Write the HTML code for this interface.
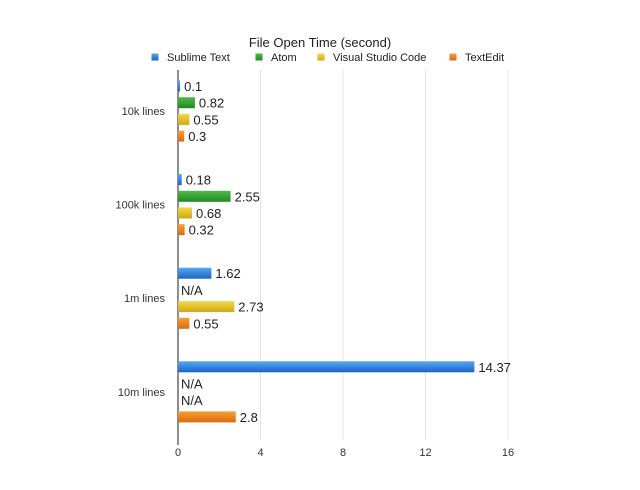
<!DOCTYPE html>
<html><head><meta charset="utf-8"><style>
body{margin:0;background:#fff;font-family:"Liberation Sans",sans-serif;}
svg text{font-family:"Liberation Sans",sans-serif;}
</style></head><body>
<svg id="c" width="640" height="485" xmlns="http://www.w3.org/2000/svg">
<defs>
<linearGradient id="g0" x1="0" y1="0" x2="0" y2="1"><stop offset="0" stop-color="#5aa6f0"/><stop offset="1" stop-color="#1666c8"/></linearGradient>
<linearGradient id="g1" x1="0" y1="0" x2="0" y2="1"><stop offset="0" stop-color="#52b84c"/><stop offset="1" stop-color="#1f8a22"/></linearGradient>
<linearGradient id="g2" x1="0" y1="0" x2="0" y2="1"><stop offset="0" stop-color="#f2d84a"/><stop offset="1" stop-color="#d0a814"/></linearGradient>
<linearGradient id="g3" x1="0" y1="0" x2="0" y2="1"><stop offset="0" stop-color="#f5a03a"/><stop offset="1" stop-color="#dc6a0c"/></linearGradient>
</defs>
<text x="320" y="47" text-anchor="middle" font-size="13" fill="#222">File Open Time (second)</text>
</svg>
<script>
const categories=["10k lines","100k lines","1m lines","10m lines"];
const seriesNames=["Sublime Text","Atom","Visual Studio Code","TextEdit"];
const sublime=[0.1,0.18,1.62,14.37];
const atom=[0.82,2.55,null,null];
const vscode=[0.55,0.68,2.73,null];
const textedit=[0.3,0.32,0.55,2.8];
const ticks=[0,4,8,12,16];
const series=[sublime,atom,vscode,textedit];
const svg=document.getElementById('c');
const NS='http://www.w3.org/2000/svg';
const x0=178,x1=508,xmax=16,yTop=70,yBottom=440;
const xs=v=>x0+(x1-x0)*v/xmax;
const groupY=i=>111+i*93.6;
function mk(t,a){const e=document.createElementNS(NS,t);for(const k in a)e.setAttribute(k,a[k]);svg.appendChild(e);return e;}
ticks.forEach(t=>{
  if(t>0){const g=mk('line',{x1:xs(t),x2:xs(t),y1:yTop,y2:yBottom,stroke:'#e4e4e4','stroke-width':1});
  
  }
  const l=mk('text',{x:xs(t),y:456,'text-anchor':'middle','font-size':11,fill:'#333'});l.textContent=t;
  
  
});
const ax=mk('line',{x1:x0,x2:x0,y1:yTop,y2:yBottom+5,stroke:'#444','stroke-width':1.2});


const legX=[155,259,321,453];
seriesNames.forEach((n,s)=>{
  const r=mk('rect',{x:legX[s]-3.5,y:53.5,width:7,height:7,fill:'url(#g'+s+')'});
  
  
  const t=mk('text',{x:legX[s]+12,y:61,'font-size':11,fill:'#222'});t.textContent=n;
  
  
});
categories.forEach((c,i)=>{
  const gy=groupY(i);
  const t=mk('text',{x:165,y:gy+4,'text-anchor':'end','font-size':11,fill:'#333'});t.textContent=c;
  
  
  series.forEach((arr,s)=>{
    const v=arr[i];const by=gy-25+s*16.7;
    if(v!==null){
      const r=mk('rect',{x:x0,y:by-5.5,width:Math.max(xs(v)-x0,1.5),height:11,fill:'url(#g'+s+')'});
      
      
    }
    const lbl=mk('text',{x:v!==null?xs(v)+4:x0+3,y:by+5,'font-size':13,fill:'#222'});
    lbl.textContent=v!==null?String(v):'N/A';
    
    
  });
});
</script>
</body></html>
